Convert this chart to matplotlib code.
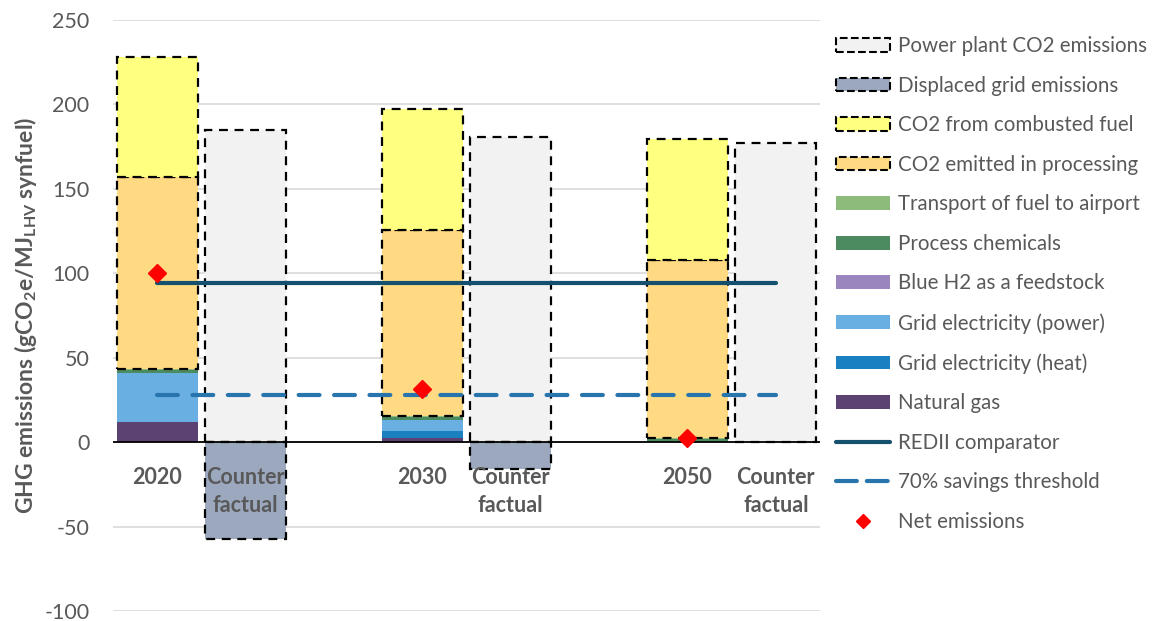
import matplotlib
matplotlib.use("Agg")
import matplotlib.pyplot as plt
from matplotlib.patches import Patch
from matplotlib.lines import Line2D
import numpy as np

plt.rcParams['font.family'] = ['Lato', 'DejaVu Sans']
plt.rcParams['mathtext.fontset'] = 'custom'
plt.rcParams['mathtext.bf'] = 'Lato:bold'
plt.rcParams['mathtext.rm'] = 'Lato:bold'
plt.rcParams['mathtext.default'] = 'bf'

# ---- data ----
slot_labels = ['2020', 'Counter\nfactual', '', '2030', 'Counter\nfactual', '', '2050', 'Counter\nfactual']
scenario_slots = [0, 3, 6]
counterfactual_slots = [1, 4, 7]

natural_gas = [12, 2.5, 0]
grid_heat = [0, 4, 0]
grid_power = [29, 6.5, 0]
blue_h2 = [0, 0, 0]
process_chemicals = [2, 2, 2]
transport = [0.5, 0.3, 0.5]
co2_processing = [113.6, 110.4, 105.3]
co2_combusted = [71.1, 71.5, 71.5]

power_plant_co2 = [184.9, 180.5, 176.9]
displaced_grid = [-57.5, -15.9, 0]

net_emissions = [100, 31.5, 2.5]
redii_comparator = 94
savings_threshold = 28.2

yticks = [-100, -50, 0, 50, 100, 150, 200, 250]

# ---- style ----
grey_txt = '#595959'
c_ng = '#5b4272'
c_heat = '#1a80bf'
c_power = '#6aafe1'
c_h2 = '#9b85bf'
c_chem = '#4b8b5f'
c_transport = '#8cbb7c'
c_proc = '#ffda82'
c_comb = '#ffff80'
c_pp = '#f2f2f2'
c_disp = '#9ba8be'

fig = plt.figure(figsize=(11.56, 6.21), dpi=100)
ax = fig.add_axes([113/1156, 10/621, 707/1156, 591/621])

w = 0.92
xs = np.array(scenario_slots, dtype=float)
xc = np.array(counterfactual_slots, dtype=float)

bottom = np.zeros(3)
solid_series = [(natural_gas, c_ng), (grid_heat, c_heat), (grid_power, c_power),
                (blue_h2, c_h2), (process_chemicals, c_chem), (transport, c_transport)]
for vals, col in solid_series:
    v = np.array(vals, dtype=float)
    ax.bar(xs, v, w, bottom=bottom, color=col, linewidth=0, zorder=2)
    bottom += v

dash_kw = dict(edgecolor='black', linewidth=1.6, linestyle=(0, (4, 3)), zorder=3)
v = np.array(co2_processing)
ax.bar(xs, v, w, bottom=bottom, color=c_proc, **dash_kw)
bottom += v
v = np.array(co2_combusted)
ax.bar(xs, v, w, bottom=bottom, color=c_comb, **dash_kw)

ax.bar(xc, power_plant_co2, w, color=c_pp, **dash_kw)
disp = np.array(displaced_grid)
mask = disp != 0
ax.bar(xc[mask], disp[mask], w, color=c_disp, **dash_kw)

# reference lines
ax.plot([0, 7], [redii_comparator] * 2, color='#16506f', lw=3, solid_capstyle='round', zorder=4)
ax.plot([0, 7], [savings_threshold] * 2, color='#2874ad', lw=3,
        linestyle=(0, (5, 3.5)), dash_capstyle='round', zorder=4)

ax.plot(xs, net_emissions, linestyle='none', marker='D', color='#ff0000',
        markersize=9, zorder=5)

ax.axhline(0, color='black', lw=1.3, zorder=4)

# axes styling
ax.set_xlim(-0.5, 7.5)
ax.set_ylim(-100, 250)
ax.set_yticks(yticks)
ax.set_yticklabels([str(t) for t in yticks], fontsize=15.5, color=grey_txt)
ax.yaxis.grid(True, color='#d9d9d9', lw=1.2, zorder=0)
ax.set_axisbelow(True)
ax.set_xticks([])
ax.tick_params(axis='y', length=0, pad=17)
for s in ax.spines.values():
    s.set_visible(False)

for i, lab in enumerate(slot_labels):
    if lab:
        ax.text(i, -14.5, lab, ha='center', va='top', fontsize=15.5, fontweight='bold',
                color=grey_txt, linespacing=1.45, zorder=6)

ax.set_ylabel('GHG emissions (gCO$_2$e/MJ$_{LHV}$ synfuel)', fontsize=16.5,
              fontweight='bold', color=grey_txt, labelpad=4)

# legend
handles = [
    Patch(facecolor=c_pp, edgecolor='black', linestyle='--', linewidth=1.5),
    Patch(facecolor=c_disp, edgecolor='black', linestyle='--', linewidth=1.5),
    Patch(facecolor=c_comb, edgecolor='black', linestyle='--', linewidth=1.5),
    Patch(facecolor=c_proc, edgecolor='black', linestyle='--', linewidth=1.5),
    Patch(facecolor=c_transport),
    Patch(facecolor=c_chem),
    Patch(facecolor=c_h2),
    Patch(facecolor=c_power),
    Patch(facecolor=c_heat),
    Patch(facecolor=c_ng),
    Line2D([], [], color='#16506f', lw=3, solid_capstyle='round'),
    Line2D([], [], color='#2874ad', lw=3, linestyle=(0, (5.0, 2.4)), dash_capstyle='round'),
    Line2D([], [], color='#ff0000', marker='D', linestyle='none', markersize=7),
]
labels = ['Power plant CO2 emissions', 'Displaced grid emissions', 'CO2 from combusted fuel',
          'CO2 emitted in processing', 'Transport of fuel to airport', 'Process chemicals',
          'Blue H2 as a feedstock', 'Grid electricity (power)', 'Grid electricity (heat)',
          'Natural gas', 'REDII comparator', '70% savings threshold', 'Net emissions']
leg = fig.legend(handles, labels, loc='upper left', bbox_to_anchor=(828/1156, 1 - 28/621),
                 frameon=False, fontsize=14.8, labelcolor=grey_txt, handlelength=2.6,
                 handleheight=0.65, handletextpad=0.4, labelspacing=0.95, borderaxespad=0)

fig.savefig('out.png', dpi=100)
